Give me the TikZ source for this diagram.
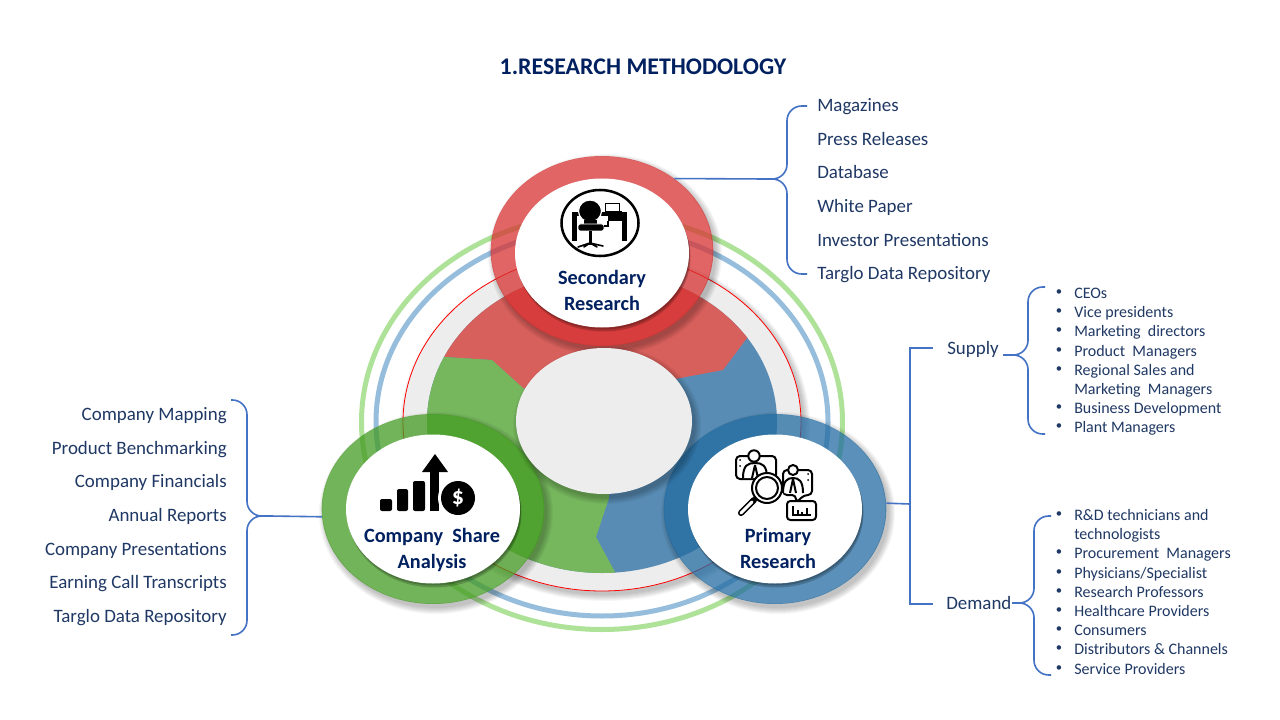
\documentclass[tikz,border=0pt]{standalone}
\usepackage{fontspec}
\setmainfont{Carlito}
\usetikzlibrary{shapes.geometric}

\definecolor{navy}{RGB}{0,32,96}
\definecolor{listnavy}{RGB}{31,56,100}
\definecolor{linkblue}{RGB}{68,114,196}
\definecolor{ringred}{RGB}{215,50,50}
\definecolor{ringgreen}{RGB}{68,155,35}
\definecolor{ringblue}{RGB}{35,108,162}
\definecolor{sectred}{RGB}{216,96,92}
\definecolor{sectgreen}{RGB}{118,183,94}
\definecolor{sectblue}{RGB}{88,140,180}
\definecolor{discgray}{RGB}{237,237,237}
\definecolor{outergreen}{RGB}{174,226,152}
\definecolor{outerblue}{RGB}{150,190,220}

\tikzset{
    ringnode/.style={ellipse, minimum width=167pt, minimum height=142.5pt, inner sep=0pt, opacity=0.75},
    whitedisc/.style={ellipse, fill=white, minimum width=130.5pt, minimum height=111.75pt, inner sep=0pt},
    boldlabel/.style={text=navy, font=\fontsize{15.2}{19.5}\selectfont\bfseries, align=center, inner sep=0pt},
    listtext/.style={text=listnavy, font=\fontsize{14.2}{16}\selectfont, inner sep=0pt, text height=12.5pt, text depth=2.8pt},
    smalltext/.style={text=listnavy, font=\fontsize{12}{13}\selectfont, anchor=west, inner sep=0pt, text height=9.5pt, text depth=2pt},
    bulletmark/.style={text=listnavy, font=\fontsize{9.5}{11}\selectfont, inner sep=0pt},
    linkline/.style={linkblue, line width=1.2pt},
    bracepath/.style={linkblue, line width=1.2pt, rounded corners=11pt},
    iconline/.style={black, line width=1.5pt, line join=round, fill=white}
}

% soft shadow outside an ellipse: cx, cy, rx, ry
\newcommand{\softshadow}[4]{
    \begin{scope}[even odd rule]
        \clip (0,0) rectangle (1280,720) (#1,#2) ellipse [x radius=#3-0.5, y radius=#4-0.5];
        \foreach \g in {0,...,6}
            \fill[black, opacity=0.035] ({#1+3},{#2+4}) ellipse [x radius=#3+\g, y radius=#4+\g];
    \end{scope}
}

\begin{document}
\begin{tikzpicture}[x=0.75pt, y=-0.75pt]
    \useasboundingbox (0,0) rectangle (1280,720);
    \fill[white] (0,0) rectangle (1280,720);

    % Title
    \node[text=navy, font=\fontsize{17.9}{20}\selectfont\bfseries, inner sep=0pt] (title) at (643,67) {1.RESEARCH METHODOLOGY};

    % Outer rings and gray base
    \draw[outergreen, line width=3.75pt] (602,422) ellipse [x radius=240.5, y radius=207.5];
    \draw[outerblue, line width=3.75pt] (602,422) ellipse [x radius=226, y radius=194];
    \softshadow{602}{422}{199}{169}
    \filldraw[fill=discgray, draw=red, line width=0.6pt] (602,422) ellipse [x radius=199, y radius=169];

    % Donut sectors
    \fill[sectblue] (602,422) ellipse [x radius=175, y radius=151];
    \begin{scope}
        \clip (604,421) -- (523,388) -- (492,360) -- (445,357) -- (380,345) -- (380,150) -- (820,150) -- (800,268) -- (747,338) -- (723,370) -- (675,379) -- cycle;
        \fill[sectred] (602,422) ellipse [x radius=175, y radius=151];
    \end{scope}
    \begin{scope}
        \clip (604,421) -- (523,388) -- (492,360) -- (445,357) -- (380,345) -- (380,650) -- (654,650) -- (615,572) -- (596,537) -- (609,498) -- cycle;
        \fill[sectgreen] (602,422) ellipse [x radius=175, y radius=151];
    \end{scope}

    % Three coloured rings
    \softshadow{602}{251}{111}{95}
    \softshadow{433}{509}{111}{95}
    \softshadow{775}{509}{111}{95}
    \node[ringnode, fill=ringred] (secring) at (602,251) {};
    \node[ringnode, fill=ringgreen] (comring) at (433,509) {};
    \node[ringnode, fill=ringblue] (priring) at (775,509) {};

    % Centre disc
    \softshadow{604}{421}{88}{73}
    \fill[discgray] (604,421) ellipse [x radius=88, y radius=73];

    % White discs
    \foreach \cx/\cy in {602/253, 433/509, 775/509} {
        \fill[black, opacity=0.2] (\cx+1,\cy+2) ellipse [x radius=87, y radius=74.5];
        \fill[black, opacity=0.2] (\cx+1.5,\cy+4) ellipse [x radius=87, y radius=74.5];
    }
    \node[whitedisc] (secdisc) at (602,253) {};
    \node[whitedisc] (comdisc) at (433,509) {};
    \node[whitedisc] (pridisc) at (775,509) {};

    \node[boldlabel] (seclabel) at (602,290) {Secondary\\Research};
    \node[boldlabel] (comlabel) at (432,550) {Company\ \ Share\\Analysis};
    \node[boldlabel] (prilabel) at (778,548) {Primary\\Research};

    % Desk icon
    \draw[black, line width=1.9pt] (600,223) ellipse [x radius=38.5, y radius=33];
    \fill[black] (572,212) rectangle (627,216);
    \fill[black] (622,212) rectangle (627,241);
    \fill[black] (572,212) rectangle (577,241);
    \fill[black] (608,214) rectangle (622,221);
    \draw[black, line width=0.7pt] (605.5,203) rectangle (619,211);
    \fill[black] (605,211) rectangle (622,213);
    \filldraw[fill=black, draw=white, line width=0.9pt] (590,211) ellipse [x radius=11.5, y radius=11];
    \fill[black] (584,220) rectangle (597,226);
    \filldraw[fill=black, draw=white, line width=0.7pt, rounded corners=1.5pt] (578,224) rectangle (604,231);
    \fill[black] (589,231) rectangle (592,245);
    \draw[black, line width=1.2pt, line cap=round] (590,243) -- (578,247) (590,243) -- (584,247) (590,243) -- (597,247) (590,243) -- (603,246);
    \draw[black, line width=0.8pt] (604,226) -- (608,226) -- (608,221);

    % Growth icon
    \fill[black, rounded corners=1.5pt] (380,499) rectangle (392,511);
    \fill[black, rounded corners=1.5pt] (397,489) rectangle (408,511);
    \fill[black, rounded corners=1.5pt] (413,481) rectangle (425,511);
    \fill[black] (430,472) rectangle (439,511);
    \fill[black] (422,472) -- (435,454) -- (448,472) -- cycle;
    \fill[white] (458,498) circle (20);
    \fill[black] (458,498) circle (17);
    \node[text=white, font=\fontsize{18}{18}\selectfont\bfseries, inner sep=0pt] (dollar) at (458,498) {\$};

    % Research icon
    \draw[iconline, rounded corners=3pt] (736,456) rectangle (776,479);
    \draw[iconline] (743,478) .. controls (743,465) and (748,463) .. (755,463) .. controls (762,463) and (767,465) .. (767,478);
    \draw[iconline] (755,465) -- (752,478) (755,465) -- (758,478);
    \draw[iconline] (754,456) circle (5.7);
    \fill[black] (740,460) circle (1) (740,466) circle (1);
    \draw[iconline, rounded corners=3pt] (783,470) -- (812,470) -- (812,495) -- (804,495) -- (796,503) -- (796,495) -- (783,495) -- cycle;
    \draw[iconline] (783,493) .. controls (783,481) and (787,478) .. (793,478) .. controls (799,478) and (803,481) .. (803,493);
    \draw[iconline] (793,479) -- (790,493) (793,479) -- (796,493);
    \draw[iconline] (793,470) circle (5);
    \fill[black] (808,474) circle (1) (808,480) circle (1);
    \draw[black, line width=4.6pt, line cap=round] (754,500) -- (741,513);
    \draw[white, line width=2.2pt, line cap=round] (752,502) -- (741,513);
    \draw[iconline] (767,488) circle (15);
    \draw[iconline] (767,488) circle (11);
    \draw[iconline, rounded corners=2.5pt] (787,501) rectangle (816,520);
    \draw[black, line width=1.1pt] (793,506) -- (793,515) -- (811,515);
    \draw[black, line width=1.1pt] (798,515) -- (798,510) (802,515) -- (802,512) (807,515) -- (807,508);

    % Top list
    \foreach \y/\txt [count=\i] in {105/Magazines, 139/Press Releases, 172/Database, 206/White Paper, 240/Investor Presentations, 273/Targlo Data Repository}
        \node[listtext, anchor=west] (top\i) at (817,\y) {\txt};
    \coordinate (toptip) at (767,179);
    \coordinate (topup) at (807,106);
    \coordinate (topdown) at (807,274);
    \draw[linkline] (secring.45) -- (toptip);
    \draw[bracepath] (topup) -- (787,106) -- (787,179) -- (toptip);
    \draw[bracepath] (topdown) -- (787,274) -- (787,179) -- (toptip);

    % Left list
    \foreach \y/\txt [count=\i] in {414/Company Mapping, 448/Product Benchmarking, 481/Company Financials, 515/Annual Reports, 549/Company Presentations, 582/Earning Call Transcripts, 616/Targlo Data Repository}
        \node[listtext, anchor=east] (left\i) at (227,\y) {\txt};
    \coordinate (lefttip) at (270,516);
    \coordinate (leftup) at (231,400);
    \coordinate (leftdown) at (231,635);
    \draw[linkline] (comring.184) -- (lefttip);
    \draw[bracepath] (leftup) -- (247,400) -- (247,516) -- (lefttip);
    \draw[bracepath] (leftdown) -- (247,635) -- (247,516) -- (lefttip);

    % Supply and demand
    \node[listtext, anchor=west] (supply) at (947,348) {Supply};
    \node[listtext, anchor=west] (demand) at (946,603) {Demand};
    \coordinate (splitpt) at (910,504);
    \coordinate (supend) at (933,348);
    \coordinate (demend) at (933,604);
    \draw[linkline] (priring.3) -- (splitpt);
    \draw[linkline] (supend) -- (910,348) -- (910,604) -- (demend);

    \foreach \y/\txt [count=\i] in {293/CEOs, 312/Vice presidents, 331/Marketing\ \ directors, 351/Product\ \ Managers, 370/Regional Sales and, 408/Business Development, 427/Plant Managers} {
        \node[smalltext] (sup\i) at (1074,\y) {\txt};
        \node[bulletmark] (supb\i) at (1059,\y) {\textbullet};
    }
    \node[smalltext] (supx) at (1074,389) {Marketing\ \ Managers};
    \coordinate (suptip) at (1003,355);
    \draw[bracepath] (1045,287) -- (1028,287) -- (1028,355) -- (suptip);
    \draw[bracepath] (1045,434) -- (1028,434) -- (1028,355) -- (suptip);

    \foreach \y/\txt [count=\i] in {515/R\&D technicians and, 553/Procurement\ \ Managers, 573/{Physicians/Specialist}, 592/Research Professors, 611/Healthcare Providers, 630/Consumers, 649/Distributors \& Channels, 669/Service Providers} {
        \node[smalltext] (dem\i) at (1074,\y) {\txt};
        \node[bulletmark] (demb\i) at (1059,\y) {\textbullet};
    }
    \node[smalltext] (demx) at (1074,534) {technologists};
    \coordinate (demtip) at (1012,603);
    \draw[bracepath] (1051,516) -- (1034,516) -- (1034,603) -- (demtip);
    \draw[bracepath] (1051,675) -- (1034,675) -- (1034,603) -- (demtip);
\end{tikzpicture}
\end{document}
